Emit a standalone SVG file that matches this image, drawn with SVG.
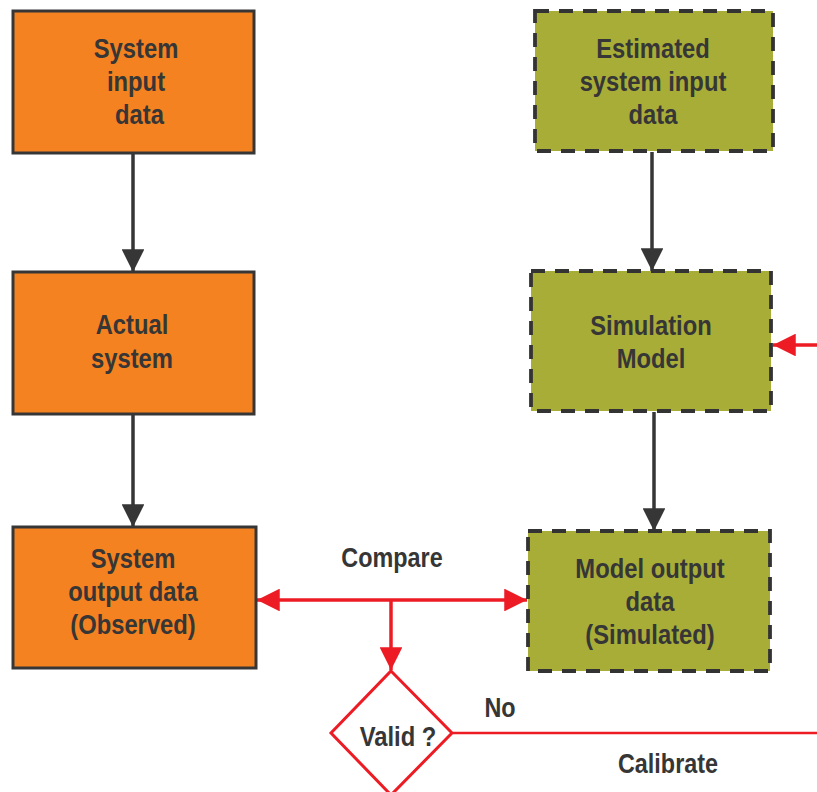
<svg xmlns="http://www.w3.org/2000/svg" width="817" height="792" viewBox="0 0 817 792">
<defs>
<style>
.org{fill:#F58220;stroke:#363636;stroke-width:3}
.grn{fill:#A8AD38;stroke:#333;stroke-width:3.8;stroke-dasharray:14,10}
.t{font-family:"Liberation Sans",Arial,sans-serif;font-weight:bold;font-size:28px;fill:#363636;text-anchor:middle}
.s{font-size:27.5px}
.dk{stroke:#363636;stroke-width:3.5;fill:none}
.rd{stroke:#ED1C24;stroke-width:3.5;fill:none}
</style>
<marker id="ad" viewBox="0 0 10 10" refX="10" refY="5" markerWidth="6.5" markerHeight="6.5" markerUnits="strokeWidth" orient="auto"><path d="M0,0L10,5L0,10z" fill="#363636"/></marker>
<marker id="ar" viewBox="0 0 10 10" refX="10" refY="5" markerWidth="6.5" markerHeight="6.5" markerUnits="strokeWidth" orient="auto-start-reverse"><path d="M0,0L10,5L0,10z" fill="#ED1C24"/></marker>
</defs>
<rect width="817" height="792" fill="#fff"/>
<g id="connectors">
<path class="dk" d="M133,153V272" marker-end="url(#ad)"/>
<path class="dk" d="M133,414V527" marker-end="url(#ad)"/>
<path class="dk" d="M652,152V271" marker-end="url(#ad)"/>
<path class="dk" d="M654,412V531" marker-end="url(#ad)"/>
<path class="rd" d="M257,600H527" marker-start="url(#ar)" marker-end="url(#ar)"/>
<path class="rd" d="M391,600V670" marker-end="url(#ar)"/>
<path class="rd" d="M817,345H773" marker-end="url(#ar)"/>
<path stroke="#ED1C24" stroke-width="2.5" fill="none" d="M453,733H817"/>
</g>
<g id="n1"><rect class="org" x="13" y="11" width="241" height="142"/>
<text class="t" transform="translate(136,0) scale(0.85,1)"><tspan x="0" y="58">System</tspan><tspan x="0" y="91">input</tspan><tspan x="4" y="124">data</tspan></text></g>
<g id="n2"><rect class="org" x="13" y="272" width="241" height="142"/>
<text class="t" transform="translate(132,0) scale(0.85,1)"><tspan x="0" y="334">Actual</tspan><tspan x="0" y="368">system</tspan></text></g>
<g id="n3"><rect class="org" x="13" y="527" width="243" height="141"/>
<text class="t" transform="translate(133,0) scale(0.85,1)"><tspan x="0" y="568">System</tspan><tspan x="0" y="601">output data</tspan><tspan x="0" y="634">(Observed)</tspan></text></g>
<g id="n4"><rect class="grn" x="535" y="11" width="238" height="140"/>
<text class="t" transform="translate(653,0) scale(0.85,1)"><tspan x="0" y="58">Estimated</tspan><tspan x="0" y="91">system input</tspan><tspan x="0" y="124">data</tspan></text></g>
<g id="n5"><rect class="grn" x="531" y="271" width="240" height="140"/>
<text class="t" transform="translate(651,0) scale(0.85,1)"><tspan x="0" y="335">Simulation</tspan><tspan x="0" y="368">Model</tspan></text></g>
<g id="n6"><rect class="grn" x="528" y="531" width="242" height="140"/>
<text class="t" transform="translate(650,0) scale(0.85,1)"><tspan x="0" y="578">Model output</tspan><tspan x="0" y="611">data</tspan><tspan x="0" y="644">(Simulated)</tspan></text></g>
<g id="n7"><path d="M391,671L452,733L391,795L331,733Z" fill="#fff" stroke="#ED1C24" stroke-width="3"/>
<text class="t" transform="translate(398,0) scale(0.85,1)" x="0" y="746">Valid ?</text></g>
<text class="t s" transform="translate(392,0) scale(0.85,1)" x="0" y="567">Compare</text>
<text class="t s" transform="translate(500,0) scale(0.85,1)" x="0" y="717">No</text>
<text class="t s" transform="translate(668,0) scale(0.85,1)" x="0" y="773">Calibrate</text>
</svg>
